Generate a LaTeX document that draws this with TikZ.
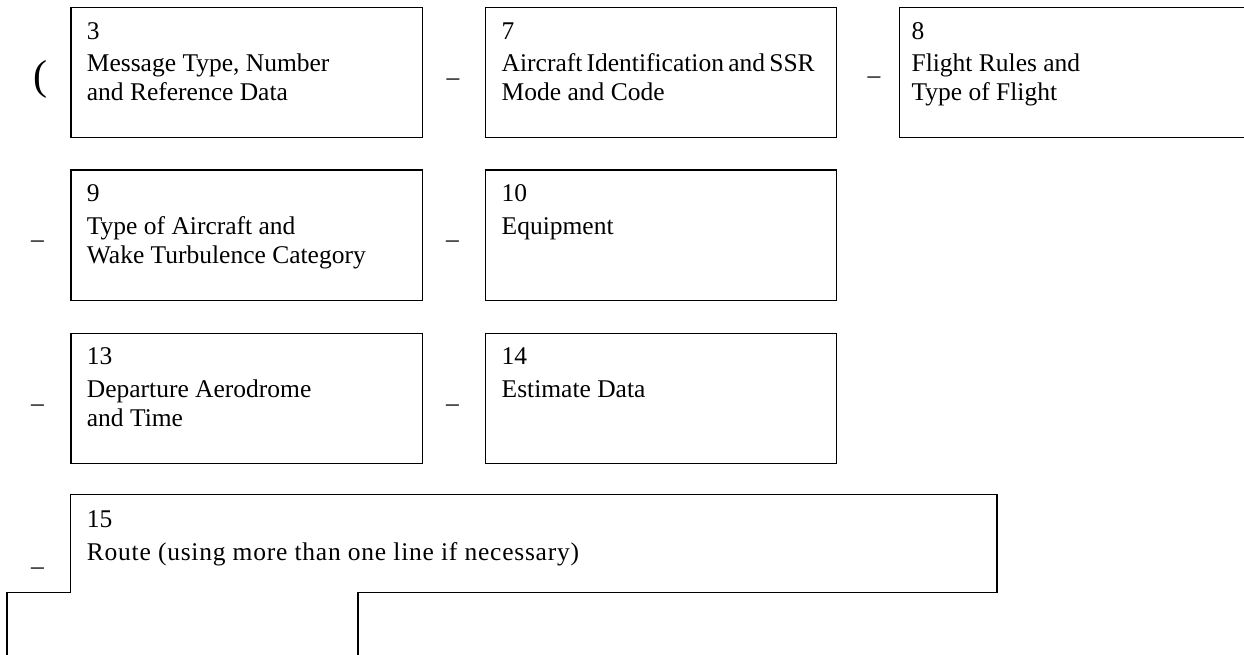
\documentclass[tikz,border=0pt]{standalone}
\usepackage{fontspec}
\setmainfont{Liberation Serif}
\begin{document}
\begin{tikzpicture}[x=1pt,y=-1pt, line width=1.2pt,
  fieldbox/.style={draw=black, minimum width=351.5pt, minimum height=130pt, inner sep=0pt, anchor=north west},
  ftext/.style={anchor=base west, inner sep=0pt, font=\fontsize{25.5}{29}\selectfont},
  sepmark/.style={anchor=base, inner sep=0pt, font=\fontsize{25.5}{29}\selectfont}]
\useasboundingbox (0,0) rectangle (1244,655);
\clip (0,0) rectangle (1244,655);

% boxes
\node[fieldbox] (b3)  at (70.3,7.3) {};
\node[fieldbox] (b7)  at (484.6,7.3) {};
\node[fieldbox, minimum width=420pt] (b8)  at (899,7.3) {};
\node[fieldbox] (b9)  at (70.3,169.5) {};
\node[fieldbox] (b10) at (484.6,169.5) {};
\node[fieldbox] (b13) at (70.3,332.7) {};
\node[fieldbox] (b14) at (484.6,332.7) {};

% route field and the fields below
\coordinate (r1) at (7,680);
\coordinate (r2) at (7,592.6);
\coordinate (r3) at (70.3,592.6);
\coordinate (r4) at (70.3,494.7);
\coordinate (r5) at (997,494.7);
\coordinate (r6) at (997,592.6);
\coordinate (r7) at (358,592.6);
\coordinate (r8) at (358,680);
\draw (r1) -- (r2) -- (r3) -- (r4) -- (r5) -- (r6) -- (r7) -- (r8);
\coordinate (b15) at (70.3,494.7);

% texts
\node[ftext] (t3a) at ([xshift=16pt,yshift=-32pt]b3.north west) {3};
\node[ftext] (t3b) at ([xshift=16pt,yshift=-64.5pt]b3.north west) {Message Type, Number};
\node[ftext] (t3c) at ([xshift=16pt,yshift=-93.5pt]b3.north west) {and Reference Data};

\node[ftext] (t7a) at ([xshift=16.5pt,yshift=-32pt]b7.north west) {7};
\node[ftext] (t7b) at ([xshift=16.5pt,yshift=-64.5pt]b7.north west) {\makebox[312pt][s]{Aircraft Identification and SSR}};
\node[ftext] (t7c) at ([xshift=16.5pt,yshift=-93.5pt]b7.north west) {Mode and Code};

\node[ftext] (t8a) at ([xshift=12pt,yshift=-32pt]b8.north west) {8};
\node[ftext] (t8b) at ([xshift=12pt,yshift=-64.5pt]b8.north west) {Flight Rules and};
\node[ftext] (t8c) at ([xshift=12pt,yshift=-93.5pt]b8.north west) {Type of Flight};

\node[ftext] (t9a) at ([xshift=16pt,yshift=-32pt]b9.north west) {9};
\node[ftext] (t9b) at ([xshift=16pt,yshift=-64.5pt]b9.north west) {Type of Aircraft and};
\node[ftext] (t9c) at ([xshift=16pt,yshift=-93.5pt]b9.north west) {Wake Turbulence Category};

\node[ftext] (t10a) at ([xshift=16.5pt,yshift=-32pt]b10.north west) {10};
\node[ftext] (t10b) at ([xshift=16.5pt,yshift=-64.5pt]b10.north west) {Equipment};

\node[ftext] (t13a) at ([xshift=16pt,yshift=-32pt]b13.north west) {13};
\node[ftext] (t13b) at ([xshift=16pt,yshift=-64.5pt]b13.north west) {Departure Aerodrome};
\node[ftext] (t13c) at ([xshift=16pt,yshift=-93.5pt]b13.north west) {and Time};

\node[ftext] (t14a) at ([xshift=16.5pt,yshift=-32pt]b14.north west) {14};
\node[ftext] (t14b) at ([xshift=16.5pt,yshift=-64.5pt]b14.north west) {Estimate Data};

\node[ftext] (t15a) at ([xshift=16pt,yshift=-32.3pt]b15) {15};
\node[ftext] (t15b) at ([xshift=16pt,yshift=-65.3pt]b15) {\addfontfeatures{LetterSpace=3}Route (using more than one line if necessary)};

% separators
\node[anchor=base west, inner sep=0pt, font=\fontsize{42}{46}\selectfont] (open) at (33,89.5) {(};
\node[sepmark] (s37)  at (453,86) {–};
\node[sepmark] (s78)  at (874,84) {–};
\node[sepmark] (s9)   at (37.5,247) {–};
\node[sepmark] (s910) at (452.5,247) {–};
\node[sepmark] (s13)  at (37.5,411) {–};
\node[sepmark] (s1314) at (452.5,411) {–};
\node[sepmark] (s15)  at (37.5,574) {–};
\end{tikzpicture}
\end{document}
